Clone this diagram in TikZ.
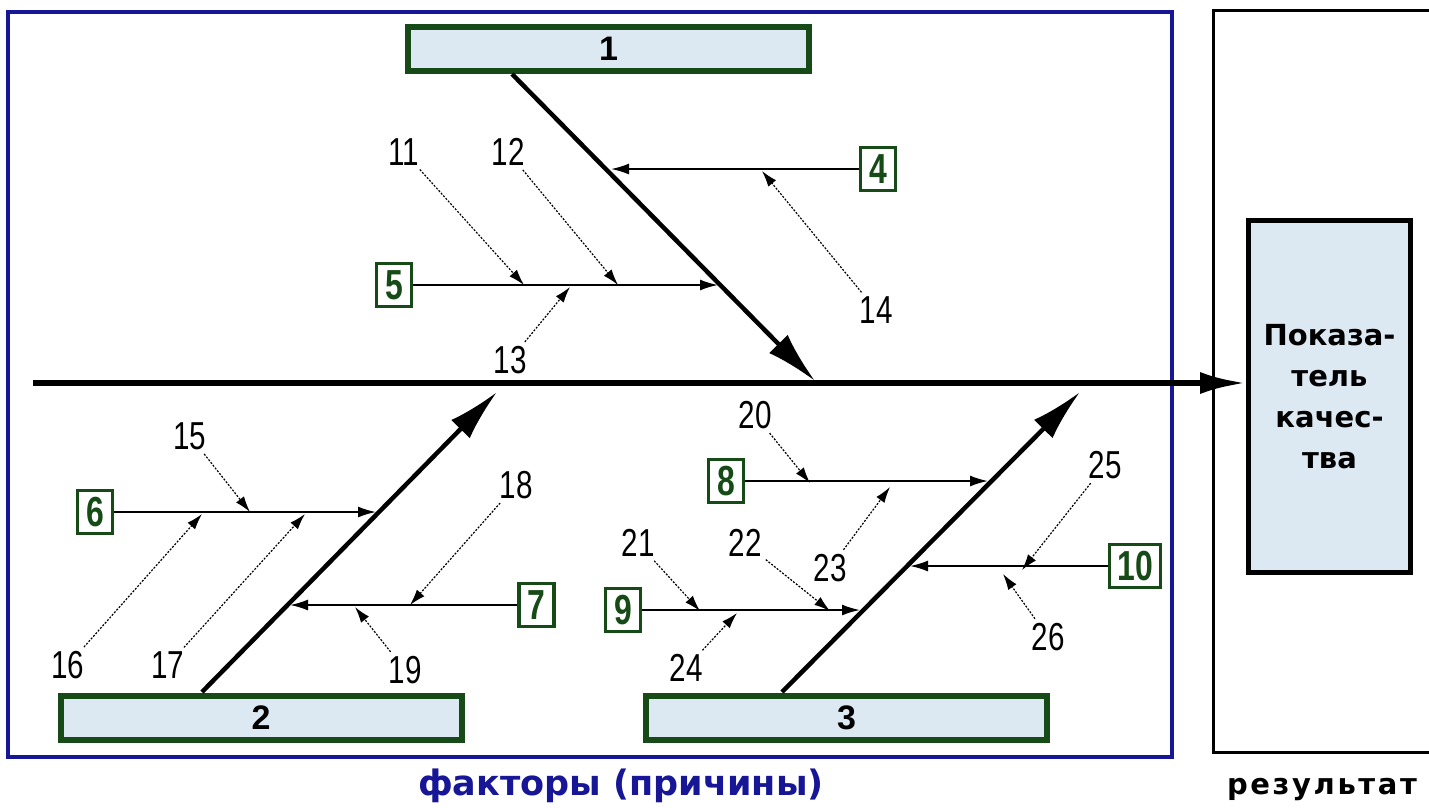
\documentclass[tikz,border=0pt]{standalone}
\usepackage{fontspec}
\setmainfont{Liberation Sans}
\newfontfamily\numfont[FakeStretch=0.76]{Liberation Sans}
\newfontfamily\cyrfont{DejaVu Sans}
\newfontfamily\spacedfont[LetterSpace=9]{DejaVu Sans}
\usetikzlibrary{arrows.meta}

\definecolor{framegreen}{RGB}{22,74,22}
\definecolor{boxfill}{RGB}{220,233,243}
\definecolor{frameblue}{RGB}{22,22,150}

\tikzset{
  factor/.style={draw=framegreen, line width=6pt, fill=boxfill, minimum width=401pt,
    minimum height=44pt, inner sep=0pt, font=\bfseries\fontsize{34}{34}\selectfont},
  cause/.style={draw=framegreen, line width=3.5pt, minimum width=35pt, minimum height=43pt,
    inner sep=0pt, text=framegreen, font=\numfont\bfseries\fontsize{42}{42}\selectfont},
  num/.style={inner sep=1pt, font=\numfont\fontsize{39}{39}\selectfont},
  bone/.style={line width=4.5pt, -{Latex[length=52pt,width=26pt]}},
  branch/.style={line width=1.8pt, -{Latex[length=18pt,width=11pt]}},
  twig/.style={line width=1.2pt, dash pattern=on 2pt off 1.5pt,
    -{Latex[length=16pt,width=10pt]}, shorten <=4pt},
}

\begin{document}
\begin{tikzpicture}[x=1pt, y=-1pt]

    \useasboundingbox (0,0) rectangle (1429,807);

    % Draw the two frames
    \draw[frameblue, line width=4pt] (8,12) rectangle (1172,757);
    \draw[line width=3pt] (1440,752) -- (1213,752) -- (1213,10) -- (1440,10);

    % Quality index box
    \node[draw, line width=5pt, fill=boxfill, minimum width=162pt, minimum height=352pt,
      align=center, font=\cyrfont\bfseries\fontsize{29}{41}\selectfont] (quality)
      at (1329.5,396.5) {Показа-\\тель\\качес-\\тва};

    % Draw the spine
    \coordinate (tail) at (33,383);
    \draw[line width=6pt, -{Latex[length=46pt,width=22pt]}] (tail) -- (tail -| quality.west);

    % Main factor boxes
    \node[factor] (f1) at (608.5,49) {1};
    \node[factor] (f2) at (261,718) {2};
    \node[factor] (f3) at (846.5,718) {3};

    % Define the ends of the bones
    \coordinate (s1) at (512,74);
    \coordinate (e1) at (815,381);
    \coordinate (s2) at (202,692);
    \coordinate (e2) at (497,392);
    \coordinate (s3) at (782,692);
    \coordinate (e3) at (1080,392);

    % Draw the bones
    \draw[bone] (s1) -- (e1);
    \draw[bone] (s2) -- (e2);
    \draw[bone] (s3) -- (e3);

    % Cause boxes
    \node[cause] (b4) at (878,169) {4};
    \node[cause] (b5) at (394,285) {5};
    \node[cause] (b6) at (95,512) {6};
    \node[cause] (b7) at (536.5,605) {7};
    \node[cause] (b8) at (726,481) {8};
    \node[cause] (b9) at (623,610) {9};
    \node[cause, minimum width=51pt] (b10) at (1135,566) {10};

    % Points where the causes meet the bones
    \coordinate (c4) at (611,169);
    \coordinate (c5) at (718,285);
    \coordinate (c6) at (376,512);
    \coordinate (c7) at (290,605);
    \coordinate (c8) at (988,481);
    \coordinate (c9) at (860,610);
    \coordinate (c10) at (910,566);

    % Draw the cause lines
    \draw[branch] (b4) -- (c4);
    \draw[branch] (b5) -- (c5);
    \draw[branch] (b6) -- (c6);
    \draw[branch] (b7) -- (c7);
    \draw[branch] (b8) -- (c8);
    \draw[branch] (b9) -- (c9);
    \draw[branch] (b10) -- (c10);

    % Sub-cause labels
    \node[num] (n11) at (404,152) {11};
    \node[num] (n12) at (508,152) {12};
    \node[num] (n13) at (510,360) {13};
    \node[num] (n14) at (876,310) {14};
    \node[num] (n15) at (190,436) {15};
    \node[num] (n16) at (68,665) {16};
    \node[num] (n17) at (168,665) {17};
    \node[num] (n18) at (516,485) {18};
    \node[num] (n19) at (405,670) {19};
    \node[num] (n20) at (755,415) {20};
    \node[num] (n21) at (638,543) {21};
    \node[num] (n22) at (745,543) {22};
    \node[num] (n23) at (830,568) {23};
    \node[num] (n24) at (686,668) {24};
    \node[num] (n25) at (1105,465) {25};
    \node[num] (n26) at (1048,637) {26};

    % Points where the sub-causes meet the cause lines
    \coordinate (t11) at (524,285);
    \coordinate (t12) at (618,285);
    \coordinate (t13) at (570,287);
    \coordinate (t14) at (762,171);
    \coordinate (t15) at (250,512);
    \coordinate (t16) at (202,514);
    \coordinate (t17) at (305,514);
    \coordinate (t18) at (410,605);
    \coordinate (t19) at (355,607);
    \coordinate (t20) at (810,483);
    \coordinate (t21) at (700,611);
    \coordinate (t22) at (830,611);
    \coordinate (t23) at (890,487);
    \coordinate (t24) at (737,613);
    \coordinate (t25) at (1022,570);
    \coordinate (t26) at (1003,574);

    % Draw the sub-cause arrows
    \draw[twig] (n11) -- (t11);
    \draw[twig] (n12) -- (t12);
    \draw[twig] (n13) -- (t13);
    \draw[twig] (n14) -- (t14);
    \draw[twig] (n15) -- (t15);
    \draw[twig] (n16) -- (t16);
    \draw[twig] (n17) -- (t17);
    \draw[twig] (n18) -- (t18);
    \draw[twig] (n19) -- (t19);
    \draw[twig] (n20) -- (t20);
    \draw[twig] (n21) -- (t21);
    \draw[twig] (n22) -- (t22);
    \draw[twig] (n23) -- (t23);
    \draw[twig] (n24) -- (t24);
    \draw[twig] (n25) -- (t25);
    \draw[twig] (n26) -- (t26);

    % Captions under the frames
    \node[text=frameblue, font=\cyrfont\bfseries\fontsize{35}{35}\selectfont] (factors)
      at (621,786) {факторы (причины)};
    \node[font=\spacedfont\bfseries\fontsize{29}{29}\selectfont] (result)
      at (1322,789) {результат};

\end{tikzpicture}
\end{document}
